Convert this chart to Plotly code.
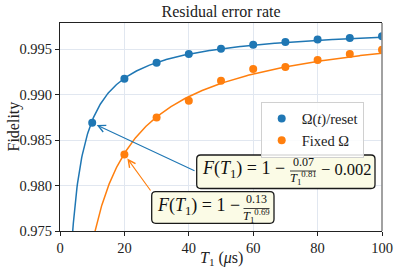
import numpy as np
import plotly.graph_objects as go

# ---------------- data ----------------
T1_reset = [10, 20, 30, 40, 50, 60, 70, 80, 90, 100]
F_reset = [0.98691, 0.99177, 0.99353, 0.99449, 0.99507, 0.99551, 0.99581, 0.99607, 0.99625, 0.99643]
T1_fixed = [20, 30, 40, 50, 60, 70, 80, 90, 100]
F_fixed = [0.98342, 0.98750, 0.98934, 0.99154, 0.99283, 0.99305, 0.99382, 0.99449, 0.99496]

# fit parameters shown in the chart: F = 1 - a / T^b - c
fit_reset = (0.07, 0.81, 0.002)
fit_fixed = (0.13, 0.69, 0.0)

x_ticks = [0, 20, 40, 60, 80, 100]
y_ticks = [0.975, 0.980, 0.985, 0.990, 0.995]
y_tick_labels = ["0.975", "0.980", "0.985", "0.990", "0.995"]

BLUE = "#1f77b4"
ORANGE = "#ff7f0e"
FONT = "Liberation Serif"
Y_TOP = 0.9979

# ---------------- layout geometry (pixels) ----------------
W, H = 399, 275
ML, MR, MT, MB = 60, 17, 23, 44
PW, PH = W - ML - MR, H - MT - MB


def px(x):
    return (x - ML) / PW


def py(y):
    return (H - MB - y) / PH


def fit_curve(params):
    a, b, c = params
    t = np.linspace(3.0, 100.0, 600)
    return t, 1 - a / t ** b - c


fig = go.Figure()

tr, fr = fit_curve(fit_reset)
tf, ff = fit_curve(fit_fixed)
fig.add_trace(go.Scatter(x=tr, y=fr, mode="lines", line=dict(color=BLUE, width=1.5),
                         showlegend=False, hoverinfo="skip"))
fig.add_trace(go.Scatter(x=tf, y=ff, mode="lines", line=dict(color=ORANGE, width=1.5),
                         showlegend=False, hoverinfo="skip"))
fig.add_trace(go.Scatter(x=T1_reset, y=F_reset, mode="markers", name="Ω(<i>t</i>)/reset",
                         marker=dict(color=BLUE, size=8)))
fig.add_trace(go.Scatter(x=T1_fixed, y=F_fixed, mode="markers", name="Fixed Ω",
                         marker=dict(color=ORANGE, size=8)))

shapes = []
annotations = []

# right spine (gray)
shapes.append(dict(type="line", xref="paper", yref="paper", x0=1, x1=1, y0=0, y1=1,
                   line=dict(color="#8a8a8a", width=1.6)))


def rounded_rect(x0, y0, x1, y1, r=4):
    X0, X1 = px(x0), px(x1)
    Y0, Y1 = py(y0), py(y1)
    rx, ry = r / PW, r / PH
    return (f"M{X0+rx},{Y0} L{X1-rx},{Y0} Q{X1},{Y0} {X1},{Y0-ry} "
            f"L{X1},{Y1+ry} Q{X1},{Y1} {X1-rx},{Y1} L{X0+rx},{Y1} "
            f"Q{X0},{Y1} {X0},{Y1+ry} L{X0},{Y0-ry} Q{X0},{Y0} {X0+rx},{Y0} Z")


def add_formula(box, main_left, main_y, num, den, frac_cx, line_y, frac_w, tail=None, tail_left=None):
    x0, y0, x1, y1 = box
    shapes.append(dict(type="path", xref="paper", yref="paper", path=rounded_rect(x0, y0, x1, y1),
                       fillcolor="#fbfbe6", line=dict(color="#1a1a1a", width=1.3), layer="above"))
    annotations.append(dict(xref="paper", yref="paper", x=px(main_left), y=py(main_y),
                            xanchor="left", yanchor="middle", showarrow=False,
                            text="<i>F</i>(<i>T</i><sub>1</sub>) = 1 −",
                            font=dict(family=FONT, size=18, color="#111")))
    annotations.append(dict(xref="paper", yref="paper", x=px(frac_cx), y=py(line_y - 0.2),
                            xanchor="center", yanchor="bottom", showarrow=False, text=num,
                            font=dict(family=FONT, size=12, color="#111")))
    annotations.append(dict(xref="paper", yref="paper", x=px(frac_cx), y=py(line_y + 7),
                            xanchor="center", yanchor="middle", showarrow=False, text=den,
                            font=dict(family=FONT, size=12.5, color="#111")))
    shapes.append(dict(type="line", xref="paper", yref="paper",
                       x0=px(frac_cx - frac_w / 2), x1=px(frac_cx + frac_w / 2),
                       y0=py(line_y), y1=py(line_y), line=dict(color="#111", width=0.8)))
    if tail:
        annotations.append(dict(xref="paper", yref="paper", x=px(tail_left), y=py(main_y),
                                xanchor="left", yanchor="middle", showarrow=False, text=tail,
                                font=dict(family=FONT, size=16.5, color="#111")))


def add_arrow(x, y, tail_px, color):
    tx, ty = tail_px
    annotations.append(dict(x=x, y=y, xref="x", yref="y", text=" ", showarrow=True,
                            axref="x", ayref="y",
                            ax=(tx - ML) / PW * 100, ay=0.975 + (H - MB - ty) / PH * (Y_TOP - 0.975),
                            arrowhead=5, arrowsize=1.3, arrowwidth=1.1, arrowcolor=color,
                            standoff=5, font=dict(size=1)))


add_arrow(T1_reset[0], F_reset[0], (196, 171.5), BLUE)
add_arrow(T1_fixed[0], F_fixed[0], (152, 192.5), ORANGE)

add_formula((196.7, 155, 375, 188.5), 200, 169.5,
            "0.07", "<i>T</i><sub>1</sub><sup>0.81</sup>", 303, 171, 26,
            tail="− 0.002", tail_left=319)
add_formula((151.7, 191.7, 274, 223.3), 155, 206,
            "0.13", "<i>T</i><sub>1</sub><sup>0.69</sup>", 256.5, 208.5, 26)

# axis titles as annotations (page-pixel positions)
annotations.append(dict(xref="paper", yref="paper", x=px(221), y=py(258), xanchor="center",
                        yanchor="middle", showarrow=False,
                        text="<i>T</i><sub>1</sub> (<i>μ</i>s)",
                        font=dict(family=FONT, size=16, color="#222")))
annotations.append(dict(xref="paper", yref="paper", x=px(13), y=py(126.5), xanchor="center",
                        yanchor="middle", showarrow=False, textangle=-90, text="Fidelity",
                        font=dict(family=FONT, size=16, color="#222")))

fig.update_layout(
    width=W, height=H,
    margin=dict(l=ML, r=MR, t=MT, b=MB, autoexpand=False),
    paper_bgcolor="white", plot_bgcolor="white",
    font=dict(family=FONT, size=14, color="#222"),
    title=dict(text="Residual error rate", x=0.5, xref="paper",
               y=1 - 11 / H, yanchor="middle", xanchor="center", automargin=False,
               font=dict(family=FONT, size=16, color="#222")),
    xaxis=dict(range=[0, 100], tickvals=x_ticks, ticks="outside", ticklen=4, tickcolor="#222",
               showline=True, linecolor="#222", linewidth=1, mirror=True, automargin=False,
               showgrid=True, gridcolor="#e1e7f0", gridwidth=1, zeroline=False,
               tickfont=dict(family=FONT, size=14.5)),
    yaxis=dict(range=[0.975, Y_TOP], tickvals=y_ticks, ticktext=y_tick_labels,
               ticks="outside", ticklen=4, tickcolor="#222", automargin=False,
               showline=True, linecolor="#222", linewidth=1,
               showgrid=True, gridcolor="#e1e7f0", gridwidth=1, zeroline=False,
               tickfont=dict(family=FONT, size=14.5)),
    legend=dict(x=px(260.7), y=py(101.5), xanchor="left", yanchor="top",
                bgcolor="rgba(255,255,255,0.85)", bordercolor="#d0d0d0", borderwidth=1,
                font=dict(family=FONT, size=14.5, color="#222"), tracegroupgap=0),
    shapes=shapes,
    annotations=annotations,
    showlegend=True,
)

fig.write_html("out.html", config={"displayModeBar": False},
               post_script="document.body.style.margin='0';")
